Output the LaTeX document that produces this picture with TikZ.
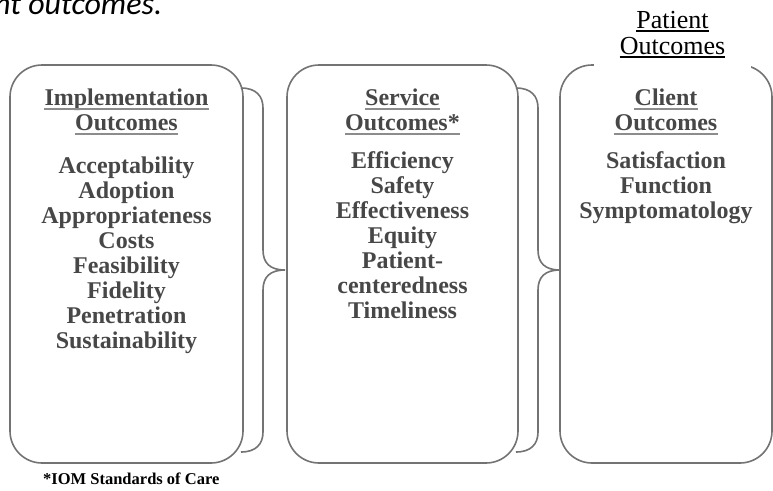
\documentclass[tikz,border=0pt]{standalone}
\usepackage{fontspec}
\setmainfont{Liberation Serif}
\newfontfamily\slidefont{Carlito}
\begin{document}
\begin{tikzpicture}[
  x=1pt, y=-1pt,
  box/.style={draw=black!55, line width=1.6pt, rounded corners=32pt, minimum width=#1, minimum height=398pt, inner sep=0pt},
  brace/.style={draw=black!55, line width=1.6pt},
  hdr/.style={font=\bfseries\fontsize{24}{25}\selectfont, text=black!72, inner sep=0pt, anchor=base},
  item/.style={font=\bfseries\fontsize{24}{25}\selectfont, text=black!72, inner sep=0pt, anchor=base},
  uline/.style={draw=black!45, line width=2.4pt},
  pat/.style={font=\fontsize{26}{26}\selectfont, inner sep=0pt, anchor=base}
]
  \clip (0,0) rectangle (773,490);

  % ==========================================
  % 1. Cajas y llaves
  % ==========================================
  \node[box=233pt] (impl) at (126.5,264) {};
  \node[box=231pt] (serv) at (402.5,264) {};
  \node[box=212pt] (cli) at (666,264) {};

  % llave entre implementacion y servicio
  \draw[brace] (241,88) .. controls (256,88) and (263,96) .. (263,108) -- (263,250)
    .. controls (263,263) and (270,270) .. (285,270)
    .. controls (270,270) and (263,277) .. (263,290) -- (263,432)
    .. controls (263,444) and (256,452) .. (241,452);

  % llave entre servicio y cliente
  \draw[brace] (516,88) .. controls (531,88) and (538,96) .. (538,108) -- (538,250)
    .. controls (538,263) and (545,270) .. (560,270)
    .. controls (545,270) and (538,277) .. (538,290) -- (538,432)
    .. controls (538,444) and (531,452) .. (516,452);

  % ==========================================
  % 2. Titulos y listas
  % ==========================================
  \node[hdr] (implA) at (126.5,105) {Implementation};
  \node[hdr] (implB) at (126.5,130) {Outcomes};
  \node[hdr] (servA) at (402.5,105) {Service};
  \node[hdr] (servB) at (402.5,130) {Outcomes*};
  \node[hdr] (cliA) at (666,105) {Client};
  \node[hdr] (cliB) at (666,130) {Outcomes};
  \foreach \n in {implA,implB,servA,servB,cliA,cliB}
    \draw[uline] ([yshift=-4pt]\n.base west) -- ([yshift=-4pt]\n.base east);

  \foreach \t [count=\i from 0] in {Acceptability,Adoption,Appropriateness,Costs,Feasibility,Fidelity,Penetration,Sustainability}
    \node[item] (impl\i) at (126.5,{173+25*\i}) {\t};
  \foreach \t [count=\i from 0] in {Efficiency,Safety,Effectiveness,Equity,Patient-,centeredness,Timeliness}
    \node[item] (serv\i) at (402.5,{168+25*\i}) {\t};
  \foreach \t [count=\i from 0] in {Satisfaction,Function,Symptomatology}
    \node[item] (cli\i) at (666,{168+25*\i}) {\t};

  % ==========================================
  % 3. Textos sueltos
  % ==========================================
  \fill[white] (594,0) rectangle (751,70);
  \node[pat] (patA) at (672.5,28) {Patient};
  \node[pat] (patB) at (672.5,54) {Outcomes};
  \draw[line width=1.3pt] ([yshift=-3pt]patA.base west) -- ([yshift=-3pt]patA.base east);
  \draw[line width=1.3pt] ([yshift=-3pt]patB.base west) -- ([yshift=-3pt]patB.base east);

  \node[font=\bfseries\fontsize{16.5}{20}\selectfont, anchor=base west, inner sep=0pt] (iom) at (43,484) {*IOM Standards of Care};
  \node[font=\slidefont\itshape\fontsize{32}{38}\selectfont, anchor=base west, inner sep=0pt] (cut) at (-6,14) {nt outcomes.};

\end{tikzpicture}
\end{document}
